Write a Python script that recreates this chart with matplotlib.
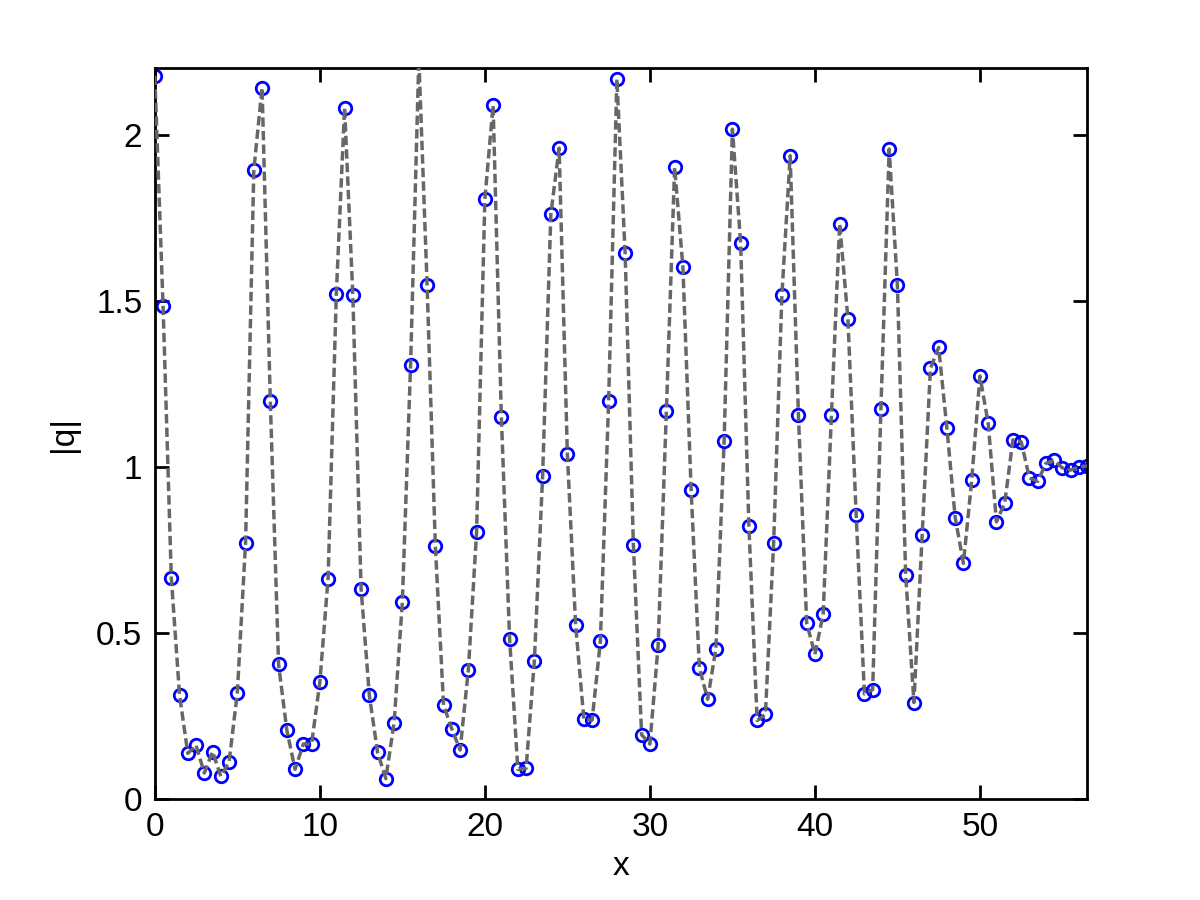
import matplotlib
matplotlib.use('Agg')
import matplotlib.pyplot as plt
import numpy as np

# samples every 0.5 in x
x = np.arange(0, 57, 0.5)
q = [2.178, 1.486, 0.667, 0.313, 0.138, 0.162, 0.079, 0.143, 0.069, 0.112,
     0.320, 0.772, 1.894, 2.142, 1.198, 0.406, 0.208, 0.090, 0.166, 0.166,
     0.352, 0.664, 1.522, 2.082, 1.517, 0.634, 0.313, 0.141, 0.062, 0.230,
     0.593, 1.308, 2.230, 1.549, 0.762, 0.283, 0.211, 0.148, 0.389, 0.805,
     1.806, 2.089, 1.151, 0.483, 0.090, 0.093, 0.417, 0.973, 1.762, 1.960,
     1.039, 0.525, 0.241, 0.238, 0.475, 1.198, 2.168, 1.645, 0.766, 0.194,
     0.166, 0.463, 1.169, 1.902, 1.603, 0.931, 0.395, 0.301, 0.453, 1.079,
     2.017, 1.674, 0.822, 0.237, 0.255, 0.772, 1.518, 1.937, 1.158, 0.531,
     0.436, 0.557, 1.156, 1.733, 1.446, 0.857, 0.317, 0.330, 1.176, 1.957,
     1.547, 0.676, 0.291, 0.796, 1.297, 1.360, 1.116, 0.848, 0.710, 0.960,
     1.274, 1.132, 0.835, 0.891, 1.082, 1.076, 0.967, 0.957, 1.011, 1.020,
     0.997, 0.991, 1.000, 1.003]

plt.rcParams['font.family'] = ['Liberation Sans', 'DejaVu Sans']

fig = plt.figure(figsize=(12, 9), dpi=100)
ax = fig.add_axes([0.129, 0.112, 0.777, 0.812])

ax.plot(x, q, 'o', markerfacecolor='none', markeredgecolor='blue',
        markersize=9, markeredgewidth=2, zorder=2)
ax.plot(x, q, '--', color='#676767', linewidth=2.5, dashes=(2.7, 1.2), zorder=3)

ax.set_xlim(0, 56.5)
ax.set_ylim(0, 2.2)
ax.set_xticks([0, 10, 20, 30, 40, 50])
ax.set_yticks([0, 0.5, 1, 1.5, 2])
ax.set_yticklabels(['0', '0.5', '1', '1.5', '2'])

ax.set_xlabel('x', fontsize=24, labelpad=6)
ax.set_ylabel('|q|', fontsize=24, labelpad=12)

ax.tick_params(direction='in', length=10, width=2, top=True, right=True,
               labelsize=24, pad=9)
for s in ax.spines.values():
    s.set_linewidth(2)

plt.savefig('out.png', dpi=100)
